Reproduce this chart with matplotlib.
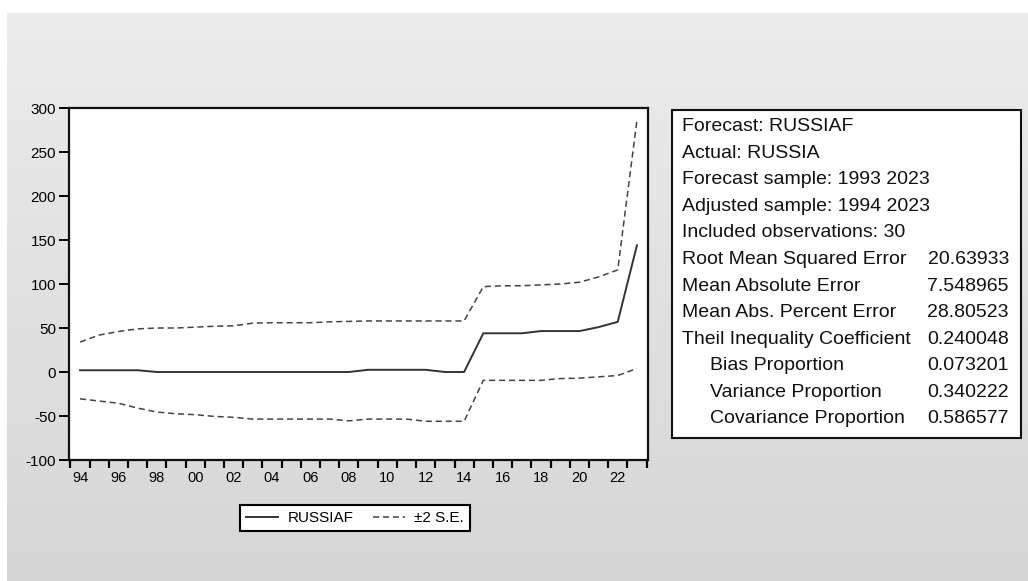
import numpy as np
import matplotlib
matplotlib.use("Agg")
import matplotlib.pyplot as plt
from matplotlib.patches import Rectangle

plt.rcParams['font.family'] = ['Liberation Sans', 'DejaVu Sans']
plt.rcParams['axes.unicode_minus'] = False

years = list(range(1994, 2024))
forecast = [2, 2, 2, 2, 0, 0, 0, 0, 0, 0, 0, 0, 0, 0, 0,
            2.5, 2.5, 2.5, 2.5, 0, 0, 44, 44, 44, 46.5, 46.5, 46.5, 51, 57, 144]
upper = [34, 42, 46, 49, 50, 50, 51, 52, 52.5, 55.5, 56, 56, 56, 57, 57.5,
         58, 58, 58, 58, 58, 58, 97, 98, 98, 99, 100, 102, 108, 116, 286]
lower = [-30.5, -33, -35.5, -41, -45.5, -47.5, -48.5, -50.5, -51.5, -53.5, -53.5,
         -53.5, -53.5, -53.5, -55.5, -53.5, -53.5, -53.5, -56, -56, -56,
         -9.5, -9.5, -9.5, -9.5, -7.5, -7, -5.5, -4, 4]
xtick_years = list(range(1994, 2023, 2))
xtick_labels = [f"{y % 100:02d}" for y in xtick_years]
ytick_vals = [-100, -50, 0, 50, 100, 150, 200, 250, 300]

stat_labels = ["Forecast: RUSSIAF", "Actual: RUSSIA", "Forecast sample: 1993 2023",
               "Adjusted sample: 1994 2023", "Included observations: 30",
               "Root Mean Squared Error", "Mean Absolute Error",
               "Mean Abs. Percent Error", "Theil Inequality Coefficient",
               "Bias Proportion", "Variance Proportion", "Covariance Proportion"]
stat_values = ["", "", "", "", "", "20.63933", "7.548965", "28.80523", "0.240048",
               "0.073201", "0.340222", "0.586577"]
stat_indent = [0, 0, 0, 0, 0, 0, 0, 0, 0, 1, 1, 1]

W, H = 1028, 581
fig = plt.figure(figsize=(W / 100, H / 100), dpi=100)
fig.patch.set_facecolor('white')

def fx(px):
    return px / W

def fy(py):
    return 1 - py / H

# gradient background
bg = fig.add_axes([fx(7), 0, 1 - fx(7), fy(13)], zorder=-10)
grad = np.linspace(0, 1, 256).reshape(-1, 1)
bg.imshow(grad, aspect='auto', cmap=matplotlib.colors.LinearSegmentedColormap.from_list(
    'g', ['#ececec', '#d6d6d6']), extent=[0, 1, 0, 1], origin='upper')
bg.set_axis_off()

ax = fig.add_axes([fx(68.5), fy(460), fx(647.5 - 68.5), (460 - 108) / H])
ax.set_facecolor('white')
ax.plot(years, forecast, color='#333333', lw=1.4, label='RUSSIAF')
ax.plot(years, upper, color='#444444', lw=1.1, dashes=(4, 2.5), label='\u00b12 S.E.')
ax.plot(years, lower, color='#444444', lw=1.1, dashes=(4, 2.5))
ax.set_xlim(1993.4, 2023.55)
ax.set_ylim(-100, 300)
ax.set_yticks(ytick_vals)
ax.set_xticks(xtick_years)
ax.set_xticklabels(xtick_labels)
ax.set_xticks(np.arange(1993.5, 2024, 1.0), minor=True)
ax.tick_params(axis='x', which='major', length=0, pad=8, labelsize=10.5)
ax.tick_params(axis='x', which='minor', length=6, width=1.6, direction='out', color='black')
ax.tick_params(axis='y', which='major', length=7, width=1.4, direction='out', pad=2, labelsize=11)
for s in ax.spines.values():
    s.set_linewidth(1.6)
    s.set_color('#111111')

leg = ax.legend(loc='center', bbox_to_anchor=(fx(355), fy(518)),
                bbox_transform=fig.transFigure, ncol=2, fontsize=11,
                frameon=True, fancybox=False, handlelength=2.1, columnspacing=1.3,
                handletextpad=0.6, borderpad=0.4, borderaxespad=0)
leg.get_frame().set_edgecolor('black')
leg.get_frame().set_linewidth(1.5)
leg.get_frame().set_facecolor('white')
leg.get_frame().set_alpha(1)

# statistics box
fig.patches.append(Rectangle((fx(671.5), fy(438)), fx(1021 - 671.5), (438 - 110) / H,
                             transform=fig.transFigure, facecolor='white',
                             edgecolor='#111111', linewidth=1.5, zorder=1))
y0, dy = 126.7, 26.57
for i, (lab, val, ind) in enumerate(zip(stat_labels, stat_values, stat_indent)):
    yy = y0 + i * dy
    fig.text(fx(681.5 + ind * 29), fy(yy), lab, fontsize=14, va='center', ha='left',
             color='#111111', zorder=2)
    if val:
        fig.text(fx(1009), fy(yy), val, fontsize=14, va='center', ha='right',
                 color='#111111', zorder=2)

fig.savefig('out.png', dpi=100)
